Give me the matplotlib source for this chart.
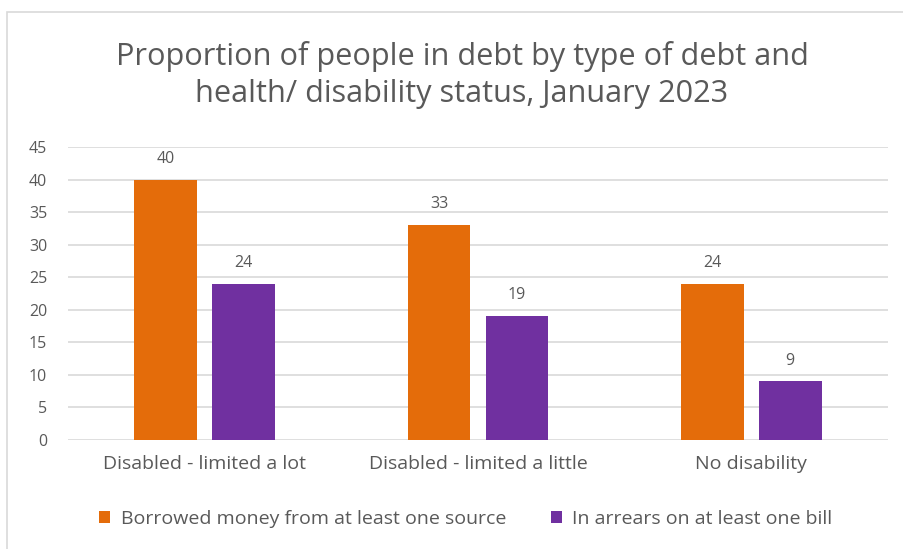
import matplotlib
matplotlib.use("Agg")
import matplotlib.pyplot as plt
import numpy as np
from matplotlib.patches import Rectangle

categories = ["Disabled - limited a lot", "Disabled - limited a little", "No disability"]
borrowed = [40, 33, 24]
arrears = [24, 19, 9]
series_names = ["Borrowed money from at least one source", "In arrears on at least one bill"]
yticks = [0, 5, 10, 15, 20, 25, 30, 35, 40, 45]
title_lines = ["Proportion of people in debt by type of debt and",
               "health/ disability status, January 2023"]

ORANGE = "#E46C0A"
PURPLE = "#7030A0"
TEXT = "#595959"
GRID = "#D9D9D9"

plt.rcParams["font.family"] = ["Open Sans", "DejaVu Sans"]

fig = plt.figure(figsize=(9.04, 5.49), dpi=100)
W, H = 904, 549

# chart frame
fig.patches.append(Rectangle((7 / W, -0.01), 1.2, (H - 12) / H + 0.01, transform=fig.transFigure,
                             fill=False, edgecolor="#D9D9D9", linewidth=1.2))

ax = fig.add_axes([68 / W, 1 - 440 / H, (888 - 68) / W, (440 - 147) / H])
x = np.arange(len(categories))
bw = 0.23
gap = 0.055
off = (bw + gap) / 2
ax.bar(x - off, borrowed, width=bw, color=ORANGE, label=series_names[0], zorder=3)
ax.bar(x + off, arrears, width=bw, color=PURPLE, label=series_names[1], zorder=3)

for xi, v in zip(x, borrowed):
    ax.text(xi - off, v + 3.2, f"{v}", ha="center", va="center", fontsize=11.5, color=TEXT)
for xi, v in zip(x, arrears):
    ax.text(xi + off, v + 3.2, f"{v}", ha="center", va="center", fontsize=11.5, color=TEXT)

ax.set_xlim(-0.5, len(categories) - 0.5)
ax.set_ylim(0, 45)
ax.set_yticks(yticks)
ax.set_yticklabels([str(t) for t in yticks])
ax.yaxis.grid(True, color=GRID, linewidth=1.2, zorder=0)
ax.set_axisbelow(True)
for s in ax.spines.values():
    s.set_visible(False)
ax.tick_params(axis="y", length=0, pad=15, labelsize=11.5, labelcolor=TEXT)
ax.tick_params(axis="x", length=0, pad=10.5, labelsize=14, labelcolor=TEXT)
ax.set_xticks(x)
ax.set_xticklabels(categories)

fig.text(462 / W, 1 - 65 / H, title_lines[0], ha="center", va="baseline", fontsize=22.1, color=TEXT)
fig.text(462 / W, 1 - 102 / H, title_lines[1], ha="center", va="baseline", fontsize=22.1, color=TEXT)

fig.legend(loc="center", bbox_to_anchor=(466 / W, 1 - 519 / H), ncol=2, frameon=False,
           fontsize=14, labelcolor=TEXT, handlelength=0.55, handleheight=0.6, handletextpad=0.55,
           columnspacing=2.3)

fig.savefig("out.png", dpi=100)
